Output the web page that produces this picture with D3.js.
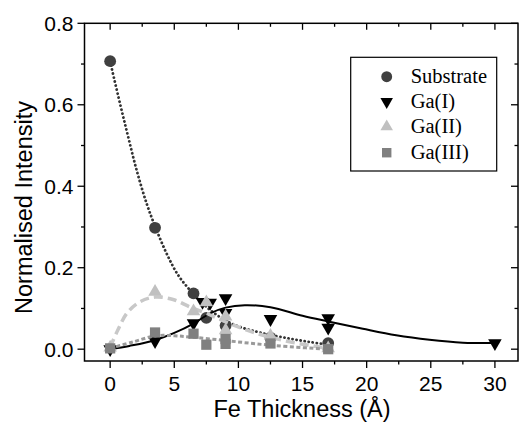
<!DOCTYPE html>
<html>
<head>
<meta charset="utf-8">
<script src="https://cdn.jsdelivr.net/npm/d3@7"></script>
<style>
  body { margin: 0; background: #fff; }
  svg { display: block; }
</style>
</head>
<body>
<div id="chart"></div>
<script>
// measured points, Fe thickness (Å) vs normalised intensity
var substrateX = [0, 3.5, 6.5, 7.5, 9, 12.5, 17];
var substrateY = [0.707, 0.298, 0.137, 0.077, 0.058, 0.028, 0.015];

var ga1X = [0, 3.5, 6.5, 7.2, 7.8, 9, 9, 12.5, 17, 17, 30];
var ga1Y = [0.0, 0.02, 0.064, 0.116, 0.114, 0.125, 0.089, 0.074, 0.076, 0.053, 0.015];

var ga2X = [0, 3.5, 6.5, 7.5, 9, 9, 12.5, 17];
var ga2Y = [0.004, 0.141, 0.093, 0.115, 0.08, 0.046, 0.033, 0.002];

var ga3X = [0, 3.5, 6.5, 7.5, 9, 9, 12.5, 17];
var ga3Y = [0.002, 0.041, 0.038, 0.011, 0.025, 0.013, 0.014, 0.0];

// fitted curves
var substrateFitX = [0, 0.76, 1.4, 2.06, 2.84, 3.56, 4.4, 5.3, 6.34, 7.5, 8.8, 10, 11.4, 12.5, 14, 15.5, 17];
var substrateFitY = [0.706, 0.604, 0.522, 0.44, 0.358, 0.297, 0.235, 0.182, 0.141, 0.104, 0.074, 0.056, 0.043, 0.035, 0.026, 0.018, 0.011];

var ga1FitX = [0, 1.5, 3.5, 5, 6.5, 7.8, 9, 10.5, 12.5, 15, 17, 19.7, 22.3, 24.9, 27.5, 30];
var ga1FitY = [0.0, 0.008, 0.022, 0.04, 0.063, 0.088, 0.102, 0.108, 0.103, 0.082, 0.068, 0.05, 0.034, 0.023, 0.016, 0.015];

var ga2FitX = [0, 0.6, 1.3, 2.3, 3.5, 4.9, 6.2, 7.5, 9.3, 11.4, 14, 17];
var ga2FitY = [0.005, 0.047, 0.088, 0.116, 0.128, 0.122, 0.104, 0.088, 0.063, 0.039, 0.018, 0.002];

var ga3FitX = [0, 1.8, 3.6, 5, 6.2, 8.8, 11.4, 14, 17];
var ga3FitY = [0.002, 0.018, 0.033, 0.033, 0.030, 0.022, 0.013, 0.006, 0.0];

var xTicks = [0, 5, 10, 15, 20, 25, 30];
var xMinor = [2.5, 7.5, 12.5, 17.5, 22.5, 27.5];
var yTicks = [0.0, 0.2, 0.4, 0.6, 0.8];
var yMinor = [0.1, 0.3, 0.5, 0.7];

var seriesNames = ["Substrate", "Ga(I)", "Ga(II)", "Ga(III)"];

var width = 526, height = 430;
var margin = {left: 84.5, right: 8, top: 23.3, bottom: 69};
var w = width - margin.left - margin.right;
var h = height - margin.top - margin.bottom;

var svg = d3.select("#chart").append("svg")
    .attr("width", width)
    .attr("height", height);

var g = svg.append("g")
    .attr("transform", "translate(" + margin.left + "," + margin.top + ")");

var x = d3.scaleLinear().domain([-2, 31.8]).range([0, w]);
var y = d3.scaleLinear().domain([-0.029, 0.8]).range([h, 0]);

function zip(xs, ys) {
    return xs.map(function(v, i) { return {x: v, y: ys[i]}; });
}

var series = [
    {name: seriesNames[0], pts: zip(substrateX, substrateY), fit: zip(substrateFitX, substrateFitY),
     symbol: d3.symbolCircle, size: 110, rot: 0, fill: "#404040",
     stroke: "#333", sw: 2.8, dash: "0.1,4", cap: "round"},
    {name: seriesNames[1], pts: zip(ga1X, ga1Y), fit: zip(ga1FitX, ga1FitY),
     symbol: d3.symbolTriangle, size: 80, rot: 180, fill: "#000",
     stroke: "#000", sw: 2, dash: null, cap: "butt"},
    {name: seriesNames[2], pts: zip(ga2X, ga2Y), fit: zip(ga2FitX, ga2FitY),
     symbol: d3.symbolTriangle, size: 80, rot: 0, fill: "#c0c0c0",
     stroke: "#c8c8c8", sw: 3.5, dash: "9,5", cap: "butt"},
    {name: seriesNames[3], pts: zip(ga3X, ga3Y), fit: zip(ga3FitX, ga3FitY),
     symbol: d3.symbolSquare, size: 105, rot: 0, fill: "#808080",
     stroke: "#9a9a9a", sw: 3, dash: "4,2.5", cap: "butt"}
];

var line = d3.line()
    .x(function(d) { return x(d.x); })
    .y(function(d) { return y(d.y); })
    .curve(d3.curveCatmullRom.alpha(0.5));

series.forEach(function(s) {
    g.append("path")
        .attr("d", line(s.fit))
        .attr("fill", "none")
        .attr("stroke", s.stroke)
        .attr("stroke-width", s.sw)
        .attr("stroke-linecap", s.cap)
        .attr("stroke-dasharray", s.dash);

    g.selectAll(null)
        .data(s.pts)
        .enter().append("path")
        .attr("d", d3.symbol().type(s.symbol).size(s.size))
        .attr("transform", function(d) {
            return "translate(" + x(d.x) + "," + y(d.y) + ")rotate(" + s.rot + ")";
        })
        .attr("fill", s.fill);
});

// frame
g.append("rect")
    .attr("width", w)
    .attr("height", h)
    .attr("fill", "none")
    .attr("stroke", "#000")
    .attr("stroke-width", 1.5);

// ticks: bottom/left outward, top/right inward
var tickG = g.append("g").attr("stroke", "#000").attr("stroke-width", 1.3);
function hTicks(vals, len, y0, dir) {
    tickG.selectAll(null).data(vals).enter().append("line")
        .attr("x1", function(d) { return x(d); })
        .attr("x2", function(d) { return x(d); })
        .attr("y1", y0)
        .attr("y2", y0 + dir * len);
}
function vTicks(vals, len, x0, dir) {
    tickG.selectAll(null).data(vals).enter().append("line")
        .attr("y1", function(d) { return y(d); })
        .attr("y2", function(d) { return y(d); })
        .attr("x1", x0)
        .attr("x2", x0 + dir * len);
}
hTicks(xTicks, 7, h, 1);
hTicks(xMinor, 3.5, h, 1);
hTicks(xTicks, 6.5, 0, 1);
hTicks(xMinor, 3.5, 0, 1);
vTicks(yTicks, 7, 0, -1);
vTicks(yMinor, 3.5, 0, -1);
vTicks(yTicks, 7, w, -1);
vTicks(yMinor, 3.5, w, -1);

// tick labels
g.selectAll(null).data(xTicks).enter().append("text")
    .attr("x", function(d) { return x(d); })
    .attr("y", h + 30)
    .attr("text-anchor", "middle")
    .attr("font-family", "Liberation Sans, Arial, sans-serif")
    .attr("font-size", 21)
    .text(function(d) { return d; });

g.selectAll(null).data(yTicks).enter().append("text")
    .attr("x", -11)
    .attr("y", function(d) { return y(d); })
    .attr("dy", "0.35em")
    .attr("text-anchor", "end")
    .attr("font-family", "Liberation Sans, Arial, sans-serif")
    .attr("font-size", 21)
    .text(function(d) { return d.toFixed(1); });

// axis titles
svg.append("text")
    .attr("x", margin.left + x(15) - 0.5)
    .attr("y", 417)
    .attr("text-anchor", "middle")
    .attr("font-family", "Liberation Sans, Arial, sans-serif")
    .attr("font-size", 23.5)
    .text("Fe Thickness (Å)");

svg.append("text")
    .attr("transform", "translate(32,207.5)rotate(-90)")
    .attr("text-anchor", "middle")
    .attr("font-family", "Liberation Sans, Arial, sans-serif")
    .attr("font-size", 23.5)
    .text("Normalised Intensity");

// legend
var legend = svg.append("g");
legend.append("rect")
    .attr("x", 350.7)
    .attr("y", 57.3)
    .attr("width", 146)
    .attr("height", 113.7)
    .attr("fill", "#fff")
    .attr("stroke", "#000")
    .attr("stroke-width", 1.2);

var rowY = [76.7, 101.7, 126.7, 152.7];
series.forEach(function(s, i) {
    legend.append("path")
        .attr("d", d3.symbol().type(s.symbol).size(s.size * 0.85))
        .attr("transform", "translate(386.7," + rowY[i] + ")rotate(" + s.rot + ")")
        .attr("fill", s.fill);
    legend.append("text")
        .attr("x", 410.7)
        .attr("y", rowY[i])
        .attr("dy", "0.32em")
        .attr("font-family", "Liberation Serif, Times New Roman, serif")
        .attr("font-size", 20.5)
        .text(s.name);
});
</script>
</body>
</html>
